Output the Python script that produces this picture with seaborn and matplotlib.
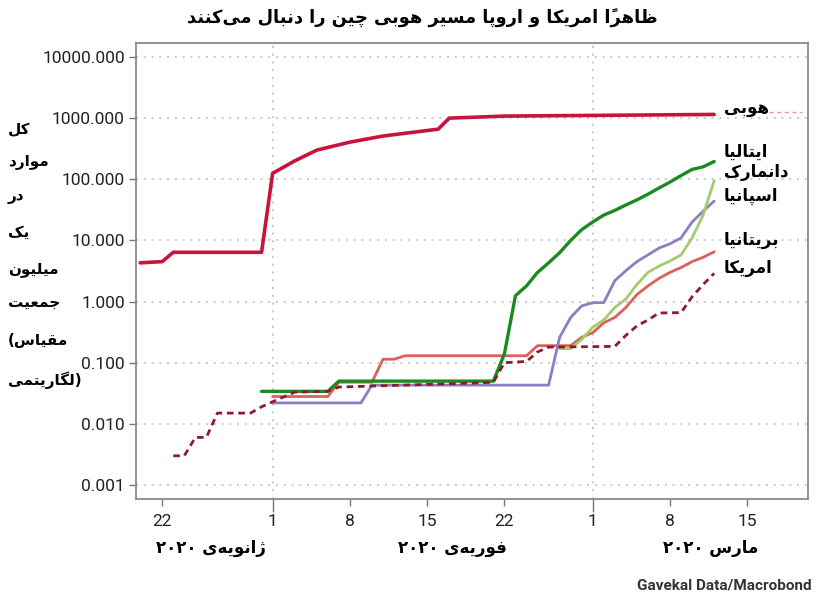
import pandas as pd
import matplotlib
matplotlib.use("Agg")
import matplotlib.pyplot as plt
from matplotlib.ticker import FixedLocator, FuncFormatter, NullLocator
import seaborn as sns

sns.set_theme(style="white")
plt.rcParams['font.family'] = ['DejaVu Sans']

# cases per million people
hubei_dates = ["01-20", "01-22", "01-23", "01-31", "02-01", "02-03", "02-05", "02-08",
               "02-11", "02-16", "02-17", "02-22", "03-12"]
hubei_vals = [4.3, 4.5, 6.4, 6.4, 125, 200, 300, 405, 510, 660, 1000, 1080, 1150]

hubei_ext_dates = ["03-17", "03-20"]
hubei_ext_vals = [1250, 1250]

italy_dates = ["01-31", "02-06", "02-07", "02-21", "02-22", "02-23", "02-24", "02-25",
               "02-26", "02-27", "02-28", "02-29", "03-01", "03-02", "03-03", "03-04",
               "03-05", "03-06", "03-07", "03-08", "03-09", "03-10", "03-11", "03-12"]
italy_vals = [0.034, 0.034, 0.05, 0.05, 0.14, 1.25, 1.8, 3.0, 4.3, 6.3, 10, 15, 20, 26,
              31, 38, 46, 57, 72, 90, 115, 145, 160, 195]

denmark_dates = ["02-27", "02-28", "02-29", "03-01", "03-02", "03-03", "03-04", "03-05",
                 "03-06", "03-07", "03-08", "03-09", "03-10", "03-11", "03-12"]
denmark_vals = [0.17, 0.17, 0.24, 0.38, 0.5, 0.8, 1.1, 1.9, 3.0, 3.8, 4.6, 5.8, 11, 26, 95]

spain_dates = ["02-01", "02-09", "02-10", "02-26", "02-27", "02-28", "02-29", "03-01",
               "03-02", "03-03", "03-04", "03-05", "03-06", "03-07", "03-08", "03-09",
               "03-10", "03-11", "03-12"]
spain_vals = [0.022, 0.022, 0.043, 0.043, 0.26, 0.55, 0.85, 0.96, 0.96, 2.2, 3.2, 4.5,
              5.8, 7.5, 8.8, 11, 20, 30, 44]

uk_dates = ["02-01", "02-06", "02-07", "02-10", "02-11", "02-12", "02-13", "02-24",
            "02-25", "02-28", "02-29", "03-01", "03-02", "03-03", "03-04", "03-05",
            "03-06", "03-07", "03-08", "03-09", "03-10", "03-11", "03-12"]
uk_vals = [0.028, 0.028, 0.048, 0.048, 0.114, 0.114, 0.13, 0.13, 0.19, 0.19, 0.26, 0.31,
           0.45, 0.55, 0.8, 1.3, 1.8, 2.4, 3.0, 3.6, 4.5, 5.3, 6.5]

us_dates = ["01-23", "01-24", "01-25", "01-26", "01-27", "01-30", "01-31", "02-01",
            "02-03", "02-06", "02-07", "02-20", "02-21", "02-22", "02-24", "02-25",
            "02-26", "03-03", "03-04", "03-05", "03-06", "03-07", "03-09", "03-10",
            "03-11", "03-12"]
us_vals = [0.003, 0.003, 0.006, 0.006, 0.015, 0.015, 0.019, 0.023, 0.033, 0.034, 0.04,
           0.047, 0.048, 0.10, 0.105, 0.15, 0.18, 0.185, 0.28, 0.40, 0.5, 0.65, 0.66,
           1.2, 1.9, 2.9]

series_names = ["بریتانیا", "اسپانیا", "دانمارک", "ایتالیا", "امریکا", "هوبی"]
y_ticks = [0.001, 0.01, 0.1, 1, 10, 100, 1000, 10000]
x_tick_dates = ["01-22", "02-01", "02-08", "02-15", "02-22", "03-01", "03-08", "03-15"]
x_tick_labels = ["22", "1", "8", "15", "22", "1", "8", "15"]
month_labels = ["ژانویه‌ی ۲۰۲۰", "فوریه‌ی ۲۰۲۰", "مارس ۲۰۲۰"]
ylabel_lines = ["کل", "موارد", "در", "یک", "میلیون", "جمعیت", "مقیاس", "لگاریتمی"]
title = "ظاهراً امریکا و اروپا مسیر هوبی چین را دنبال می‌کنند"
source = "Gavekal Data/Macrobond"

# --- minimal Persian shaping (contextual forms + right-to-left order) ---
FOUR = {'ئ': 0xFE89, 'ب': 0xFE8F, 'ت': 0xFE95, 'ث': 0xFE99, 'ج': 0xFE9D, 'ح': 0xFEA1,
        'خ': 0xFEA5, 'س': 0xFEB1, 'ش': 0xFEB5, 'ص': 0xFEB9, 'ض': 0xFEBD, 'ط': 0xFEC1,
        'ظ': 0xFEC5, 'ع': 0xFEC9, 'غ': 0xFECD, 'ف': 0xFED1, 'ق': 0xFED5, 'ل': 0xFEDD,
        'م': 0xFEE1, 'ن': 0xFEE5, 'ه': 0xFEE9, 'پ': 0xFB56, 'چ': 0xFB7A, 'ک': 0xFB8E,
        'گ': 0xFB92, 'ی': 0xFBFC}
TWO = {'آ': 0xFE81, 'ا': 0xFE8D, 'د': 0xFEA9, 'ذ': 0xFEAB, 'ر': 0xFEAD, 'ز': 0xFEAF,
       'و': 0xFEED, 'ژ': 0xFB8A}
MARKS = '\u064b'
DIGITS = '۰۱۲۳۴۵۶۷۸۹0123456789'


def fa(text):
    n = len(text)

    def neighbour(i, step):
        j = i + step
        while 0 <= j < n and text[j] in MARKS:
            j += step
        return text[j] if 0 <= j < n else ''

    clusters = []
    for i, c in enumerate(text):
        if c in MARKS:
            clusters[-1] += c
            continue
        if c == '\u200c':
            continue
        if c in FOUR or c in TWO:
            jp = neighbour(i, -1) in FOUR
            q = neighbour(i, 1)
            jn = c in FOUR and (q in FOUR or q in TWO)
            form = 3 if jp and jn else 1 if jp else 2 if jn else 0
            c = chr(FOUR.get(c, TWO.get(c)) + form)
        if c in DIGITS and clusters and clusters[-1][-1] in DIGITS:
            clusters[-1] += c
        else:
            clusters.append(c)
    return ''.join(reversed(clusters))


def d(s):
    return pd.Timestamp("2020-" + s)


frames = []
for name, dates, vals in [(series_names[0], uk_dates, uk_vals),
                          (series_names[1], spain_dates, spain_vals),
                          (series_names[2], denmark_dates, denmark_vals),
                          (series_names[3], italy_dates, italy_vals),
                          (series_names[4], us_dates, us_vals),
                          (series_names[5], hubei_dates, hubei_vals)]:
    frames.append(pd.DataFrame({"date": [d(s) for s in dates], "value": vals, "series": name}))
df = pd.concat(frames, ignore_index=True)

colors = {series_names[0]: "#dc605b", series_names[1]: "#8d7dc5",
          series_names[2]: "#a4cc6f", series_names[3]: "#1b8b1f",
          series_names[4]: "#8e1b30", series_names[5]: "#c8143c"}
widths = {series_names[0]: 2.0, series_names[1]: 2.0, series_names[2]: 2.0,
          series_names[3]: 2.4, series_names[4]: 2.0, series_names[5]: 2.6}

W, H = 820, 598
fig = plt.figure(figsize=(W / 100, H / 100), dpi=100)
ax = fig.add_axes([136 / W, 1 - 499 / H, 672 / W, 456 / H])


def px(x, y):
    return x / W, 1 - y / H


ax.set_yscale("log")
ax.set_ylim(10 ** -3.229, 10 ** 4.229)
ax.set_xlim(pd.Timestamp("2020-01-19 15:00"), pd.Timestamp("2020-03-20 12:00"))

# dotted grid
for v in y_ticks:
    ax.axhline(v, color="#c8c8c8", lw=1.4, ls=(0, (1, 3)), zorder=0)
for s in ["02-01", "03-01"]:
    ax.axvline(d(s), color="#c8c8c8", lw=1.4, ls=(0, (1, 3)), zorder=0)

for name in series_names:
    sub = df[df["series"] == name]
    sns.lineplot(data=sub, x="date", y="value", ax=ax, color=colors[name],
                 lw=widths[name], estimator=None, sort=False, legend=False,
                 linestyle=(0, (2.4, 1.7)) if name == series_names[4] else "-")

sns.lineplot(x=[d(s) for s in hubei_ext_dates], y=hubei_ext_vals, ax=ax,
             color="#e29aa4", lw=1.0, linestyle=(0, (3, 2.5)), estimator=None, legend=False)

ax.set_xlabel("")
ax.set_ylabel("")

ax.yaxis.set_major_locator(FixedLocator(y_ticks))
ax.yaxis.set_minor_locator(NullLocator())
ax.yaxis.set_major_formatter(FuncFormatter(lambda v, p: f"{v:.3f}"))
ax.set_xticks([d(s) for s in x_tick_dates])
ax.set_xticklabels(x_tick_labels)
ax.tick_params(axis="both", which="major", direction="out", length=5, width=1,
               color="#777777", labelcolor="#222222", labelsize=12.5, left=True, bottom=True)
ax.tick_params(axis="y", pad=3)
ax.tick_params(axis="x", pad=6, labelsize=12.5)
for lab in ax.get_xticklabels() + ax.get_yticklabels():
    lab.set_family("Roboto")
for i, t in enumerate(ax.xaxis.get_major_ticks()):
    if x_tick_labels[i] == "1":
        t.tick1line.set_markersize(9)

for sp in ax.spines.values():
    sp.set_color("#8a8a8a")
    sp.set_linewidth(1.3)

# title
fig.text(*px(422, 18), fa(title), ha="center", va="center", fontsize=12.8,
         fontweight="bold", color="black")

# y label, stacked lines
ylab_y = [130, 163, 197, 232, 270, 302, 340, 380]
for i, (line, yy) in enumerate(zip(ylabel_lines, ylab_y)):
    txt = fa(line)
    if i == 6:
        txt = "(" + txt
    if i == 7:
        txt = txt + ")"
    fig.text(*px(8, yy), txt, ha="left", va="center", fontsize=11, fontweight="bold",
             color="black")

# series labels
lab_y = {series_names[5]: 108, series_names[3]: 152, series_names[2]: 172,
         series_names[1]: 196, series_names[0]: 240, series_names[4]: 268}
for name, yy in lab_y.items():
    fig.text(*px(724, yy), fa(name), ha="left", va="center", fontsize=12,
             fontweight="bold", color="black")

# month labels
for lab, xx in zip(month_labels, [211, 452, 711]):
    fig.text(*px(xx, 548), fa(lab), ha="center", va="center", fontsize=12,
             fontweight="bold", color="black")

fig.text(*px(812, 586), source, ha="right", va="center", fontsize=11, fontweight="bold",
         color="#333333", family="Roboto")

fig.savefig("out.png", dpi=100)
